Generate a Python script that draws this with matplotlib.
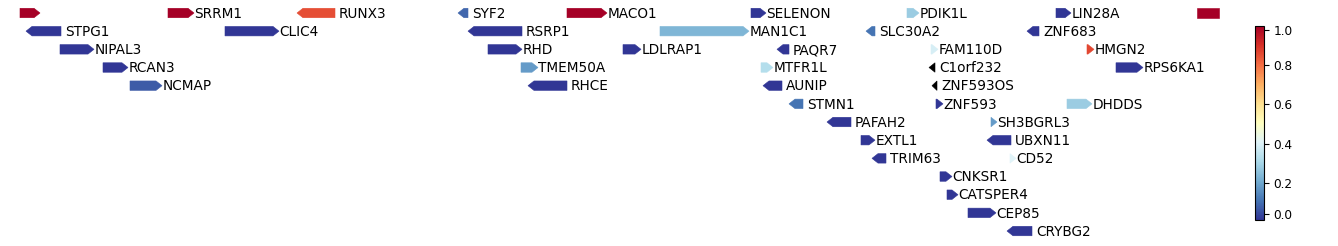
import numpy as np
import matplotlib
matplotlib.use("Agg")
import matplotlib.pyplot as plt
from matplotlib.patches import Polygon
from matplotlib.colors import FuncNorm, Normalize
from matplotlib.cm import ScalarMappable

# gene track, values (x in track units)
names = ["", "SRRM1", "RUNX3", "SYF2", "MACO1", "SELENON", "PDIK1L", "LIN28A", "",
         "STPG1", "CLIC4", "RSRP1", "MAN1C1", "SLC30A2", "ZNF683",
         "NIPAL3", "RHD", "LDLRAP1", "PAQR7", "FAM110D", "HMGN2",
         "RCAN3", "TMEM50A", "MTFR1L", "C1orf232", "RPS6KA1",
         "NCMAP", "RHCE", "AUNIP", "ZNF593OS",
         "STMN1", "ZNF593", "DHDDS",
         "PAFAH2", "SH3BGRL3",
         "EXTL1", "UBXN11",
         "TRIM63", "CD52",
         "CNKSR1", "CATSPER4", "CEP85", "CRYBG2"]
starts = [20, 168, 297, 458, 567, 751, 907, 1056, 1197,
          26, 225, 468, 660, 866, 1027,
          60, 488, 623, 777, 931, 1087,
          103, 521, 761, 929, 1116,
          130, 528, 763, 932,
          789, 936, 1067,
          827, 991,
          861, 987,
          872, 1010,
          940, 947, 968, 1007]
ends = [40, 194, 335, 468, 607, 766, 919, 1071, 1219,
        61, 279, 522, 749, 875, 1039,
        94, 522, 641, 789, 938, 1094,
        128, 538, 773, 935, 1143,
        162, 567, 782, 937,
        803, 943, 1092,
        851, 997,
        875, 1011,
        886, 1016,
        952, 958, 996, 1032]
strands = ["+", "+", "-", "-", "+", "+", "+", "+", ".",
           "-", "+", "-", "+", "-", "-",
           "+", "+", "+", "-", "+", "+",
           "+", "+", "+", "-", "+",
           "+", "-", "-", "-",
           "-", "+", "+",
           "-", "+",
           "+", "-",
           "-", "+",
           "+", "+", "+", "-"]
rows = [0] * 9 + [1] * 6 + [2] * 6 + [3] * 5 + [4] * 4 + [5] * 3 + [6] * 2 + [7] * 2 + [8] * 2 + [9, 10, 11, 12]
values = [1.0, 1.0, 0.85, 0.08, 1.0, 0.0, 0.27, 0.0, 1.0,
          0.0, 0.0, 0.0, 0.22, 0.1, 0.0,
          0.0, 0.0, 0.0, 0.0, 0.38, 0.86,
          0.0, 0.17, 0.32, np.nan, 0.0,
          0.06, 0.0, 0.0, np.nan,
          0.1, 0.0, 0.27,
          0.0, 0.17,
          0.0, 0.0,
          0.0, 0.4,
          0.0, 0.0, 0.0, 0.0]

# colour bar scale as drawn (value -> bar fraction)
cb_vals = [-0.036, 0.0, 0.2, 0.4, 0.6, 0.8, 1.0, 1.024]
cb_frac = [0.0, 0.029, 0.19, 0.391, 0.597, 0.798, 0.978, 1.0]
cb_ticks = [0.0, 0.2, 0.4, 0.6, 0.8, 1.0]

cb_norm = FuncNorm((lambda v: np.interp(v, cb_vals, cb_frac),
                    lambda f: np.interp(f, cb_frac, cb_vals)),
                   vmin=cb_vals[0], vmax=cb_vals[-1])
norm = Normalize(vmin=0.0, vmax=1.0)
cmap = plt.get_cmap("RdYlBu_r").with_extremes(bad="black")

W, H = 1338, 246
fig = plt.figure(figsize=(W / 100, H / 100), dpi=100)
ax = fig.add_axes([0, 0, 1240 / W, 1])
ax.set_xlim(0, 1240)
row_px = 18.17
ax.set_ylim((H - 13) / row_px, -13 / row_px)
ax.axis("off")

bar_h = 0.52
head = 6.0
for name, s, e, st, r, v in zip(names, starts, ends, strands, rows, values):
    col = cmap(norm(v)) if not np.isnan(v) else (0, 0, 0, 1)
    y0, y1 = r - bar_h / 2, r + bar_h / 2
    hl = min(head, e - s)
    if st == "+":
        pts = [(s, y0), (e - hl, y0), (e, r), (e - hl, y1), (s, y1)]
    elif st == "-":
        pts = [(e, y0), (s + hl, y0), (s, r), (s + hl, y1), (e, y1)]
    else:
        pts = [(s, y0), (e, y0), (e, y1), (s, y1)]
    ax.add_patch(Polygon(pts, closed=True, facecolor=col, edgecolor=col,
                         linewidth=0.4))
    if name:
        off = 0.5 if st == "+" else 4.0
        ax.text(e + off, r + 0.04, name, va="center", ha="left", fontsize=9.8,
                clip_on=False)

cax = fig.add_axes([1255 / W, (H - 220) / H, 8.5 / W, 194.3 / H])
cb = fig.colorbar(ScalarMappable(norm=cb_norm, cmap=cmap), cax=cax)
cb.set_ticks(cb_ticks)
cb.ax.set_yticklabels([f"{t:.1f}" for t in cb_ticks])
cb.ax.tick_params(labelsize=8.7, length=3.5, width=0.8)
cb.outline.set_linewidth(0.8)

fig.savefig("out.png", dpi=100)
